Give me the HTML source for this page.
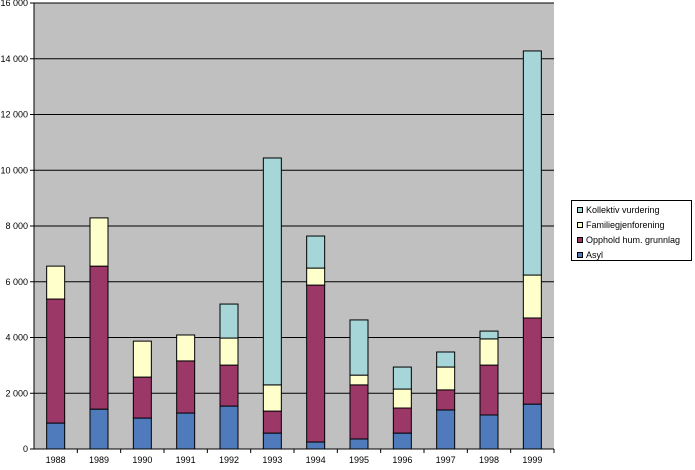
<!DOCTYPE html>
<html><head><meta charset="utf-8"><style>
body{margin:0;background:#fff;font-family:"Liberation Sans",sans-serif}
svg text{font-family:"Liberation Sans",sans-serif;font-size:9px;fill:#000}
</style></head><body>
<svg id="c" width="695" height="465"></svg>
<script>
const years=["1988","1989","1990","1991","1992","1993","1994","1995","1996","1997","1998","1999"];
const asyl=[930,1430,1110,1290,1540,570,250,360,570,1400,1220,1610];
const opphold=[4450,5130,1470,1870,1470,790,5630,1940,900,720,1790,3090];
const familie=[1180,1730,1290,930,970,940,610,350,680,820,940,1540];
const kollektiv=[0,0,0,0,1220,8140,1150,1980,790,540,280,8040];
const yTicks=[0,2000,4000,6000,8000,10000,12000,14000,16000];
const yTickLabels=["0","2 000","4 000","6 000","8 000","10 000","12 000","14 000","16 000"];
const seriesNames=["Asyl","Opphold hum. grunnlag","Familiegjenforening","Kollektiv vurdering"];
const NS="http://www.w3.org/2000/svg";
const svg=document.getElementById("c");
const L=34,R=554,T=3,B=449;
const y=v=>B-(v/16000)*(B-T);
const bw=(R-L)/years.length;
const x=i=>L+bw*i+bw/2;
function mk(t,a){const e=document.createElementNS(NS,t);for(const k in a)e.setAttribute(k,a[k]);svg.appendChild(e);return e;}
let e=mk("rect",{x:L,y:T,width:R-L,height:B-T,fill:"#c0c0c0"});


yTicks.forEach((t,i)=>{
 if(t>0){const g=mk("line",{x1:L,x2:R,y1:y(t),y2:y(t),stroke:"#000","stroke-width":1});
 
 }
 const tk=mk("line",{x1:L-4,x2:L,y1:y(t),y2:y(t),stroke:"#000"});
 
 
 const tx=mk("text",{x:L-6,y:y(t)+3,"text-anchor":"end"});tx.textContent=yTickLabels[i];
 
 
});
const series=[asyl,opphold,familie,kollektiv];
const colors=["#4f7bbd","#9b3868","#ffffcc","#a6d6d8"];
years.forEach((yr,i)=>{
 let base=0;
 series.forEach((s,k)=>{
  const v=s[i];if(v<=0)return;
  const r=mk("rect",{x:x(i)-9,y:y(base+v),width:18,height:y(base)-y(base+v),fill:colors[k],stroke:"#000","stroke-width":1});
  
  
  base+=v;
 });
 const tk=mk("line",{x1:L+bw*(i+1),x2:L+bw*(i+1),y1:B,y2:B+4,stroke:"#000"});
 
 
 const t=mk("text",{x:x(i),y:B+14,"text-anchor":"middle"});t.textContent=yr;
 
 
});
let ax=mk("line",{x1:L,x2:L,y1:T,y2:B,stroke:"#000"});


ax=mk("line",{x1:L,x2:R,y1:B,y2:B,stroke:"#000"});


const lg=mk("rect",{x:571.5,y:200.5,width:120,height:60,fill:"#fff",stroke:"#000"});


[3,2,1,0].forEach((k,j)=>{
 const yy=207+j*15;
 const s=mk("rect",{x:577.5,y:yy+0.5,width:5,height:5,fill:colors[k],stroke:"#000"});
 
 
 const t=mk("text",{x:586,y:yy+6,"font-size":"7px"});t.textContent=seriesNames[k];
 
 
});
</script>
</body></html>
